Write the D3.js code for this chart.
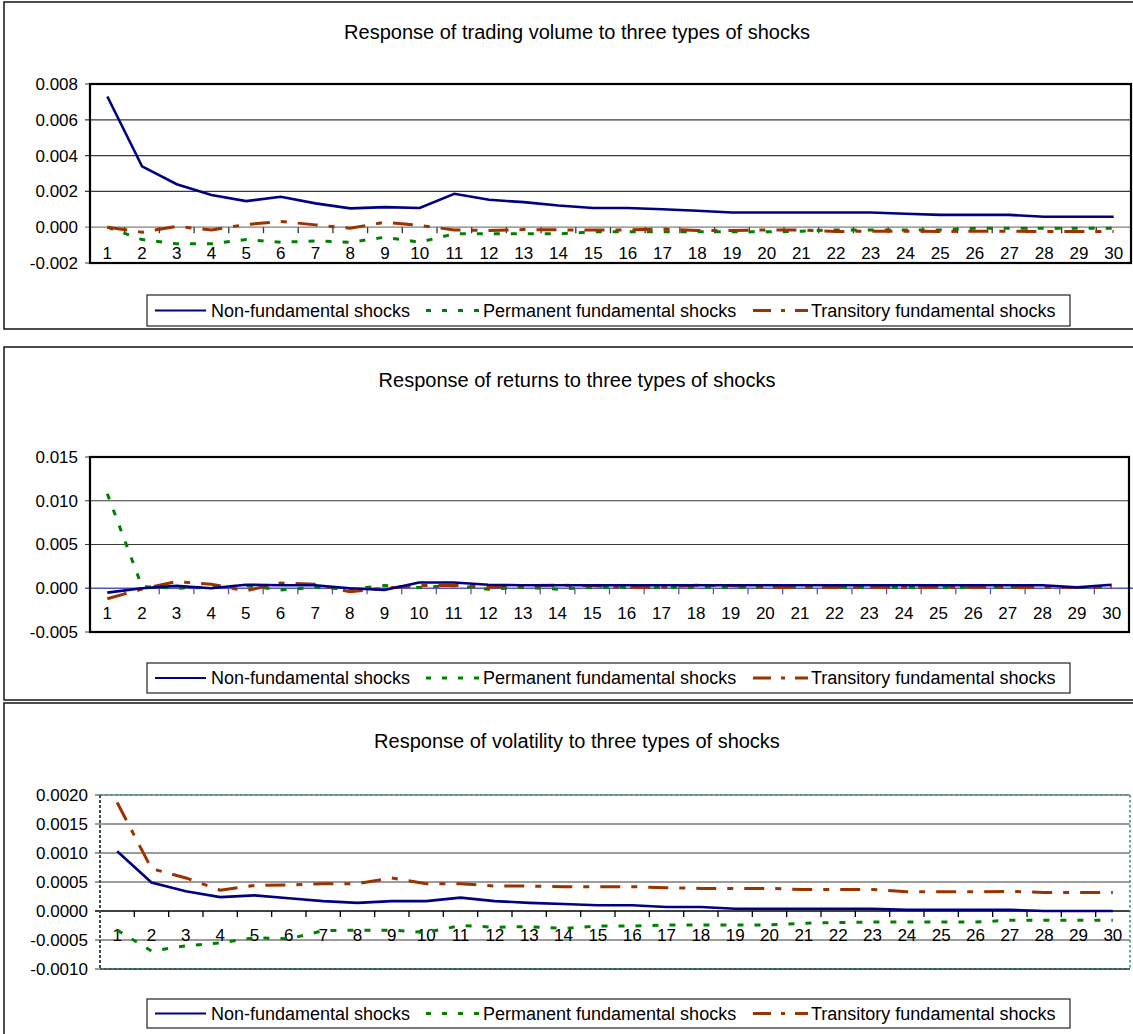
<!DOCTYPE html>
<html>
<head>
<meta charset="utf-8">
<script src="https://cdn.jsdelivr.net/npm/d3@7"></script>
<style>
  body { margin: 0; background: #fff; }
  svg { display: block; font-family: "Liberation Sans", Arial, sans-serif; }
</style>
</head>
<body>
<div id="chart"></div>
<script>
const periods = [1, 2, 3, 4, 5, 6, 7, 8, 9, 10, 11, 12, 13, 14, 15, 16, 17, 18, 19, 20, 21, 22, 23, 24, 25, 26, 27, 28, 29, 30];
const seriesNames = ['Non-fundamental shocks', 'Permanent fundamental shocks', 'Transitory fundamental shocks'];
const titles = [
  'Response of trading volume to three types of shocks',
  'Response of returns to three types of shocks',
  'Response of volatility to three types of shocks'
];

// trading volume
const volumeNonFundamental = [0.0073, 0.0034, 0.0024, 0.0018, 0.00146, 0.0017, 0.00133, 0.00105, 0.00112, 0.00107, 0.00187, 0.00153, 0.0014, 0.00121, 0.00107, 0.00107, 0.001, 0.00092, 0.00082, 0.00082, 0.00082, 0.00082, 0.00082, 0.00075, 0.00069, 0.00069, 0.00069, 0.00058, 0.00058, 0.00058];
const volumePermanent = [0, -0.00069, -0.00093, -0.00093, -0.00069, -0.00084, -0.00077, -0.00084, -0.00056, -0.00084, -0.00037, -0.00037, -0.00037, -0.00037, -0.00026, -0.00026, -0.00026, -0.00026, -0.00026, -0.00026, -0.00022, -0.00015, -0.00015, -0.00015, -0.00015, -0.00006, -0.00006, -0.00006, -0.00006, -0.00006];
const volumeTransitory = [0, -0.00028, 0.00004, -0.00015, 0.00015, 0.00032, 0.00013, -0.00006, 0.00028, 0.0001, -0.00015, -0.00019, -0.00013, -0.00015, -0.00015, -0.00015, -0.0001, -0.00019, -0.00019, -0.00015, -0.00015, -0.00024, -0.00022, -0.00022, -0.00024, -0.00022, -0.00022, -0.00024, -0.00024, -0.00024];
const volumeTicks = [-0.002, 0, 0.002, 0.004, 0.006, 0.008];

// returns
const returnsNonFundamental = [-0.0005, 0, 0.00027, 0, 0.0004, 0.00034, 0.00034, 0, -0.0002, 0.00065, 0.00065, 0.0004, 0.00034, 0.00034, 0.00034, 0.00034, 0.00034, 0.00034, 0.00034, 0.00034, 0.00034, 0.00034, 0.00034, 0.00034, 0.00034, 0.00034, 0.00034, 0.00034, 0.0001, 0.0004];
const returnsPermanent = [0.0108, 0.0002, 0, 0.0001, 0.0003, -0.0002, 0.0001, -0.0001, 0.0003, 0.0001, 0.0003, -0.0001, 0.0001, -0.0001, 0.0001, 0.0001, 0.0001, 0.0001, 0.0001, 0.0001, 0.0001, 0.0001, 0.0001, 0.0001, 0.0001, 0.0001, 0.0001, 0.0001, 0.0001, 0.0001];
const returnsTransitory = [-0.0012, -0.0001, 0.00076, 0.00046, -0.0003, 0.0006, 0.00046, -0.0004, 0, 0.0003, 0.00034, 0.0001, 0.0003, 0.00034, 0.0003, 0.0001, 0.0001, 0.00034, 0.0003, 0.0001, 0.0001, 0.0001, 0.0001, 0.0001, 0.0001, 0.0001, 0.0001, 0.0001, 0.0001, 0.0001];
const returnsTicks = [-0.005, 0, 0.005, 0.010, 0.015];

// volatility
const volatilityNonFundamental = [0.00103, 0.00049, 0.00034, 0.00024, 0.00027, 0.00022, 0.00017, 0.00014, 0.00017, 0.00017, 0.00023, 0.00017, 0.00014, 0.00012, 0.0001, 0.0001, 0.00007, 0.00007, 0.00004, 0.00004, 0.00004, 0.00004, 0.00004, 0.00002, 0.00002, 0.00002, 0.00002, 0, 0, 0];
const volatilityPermanent = [-0.00033, -0.00069, -0.0006, -0.00055, -0.00046, -0.00048, -0.00034, -0.00033, -0.00033, -0.00037, -0.00025, -0.00028, -0.00027, -0.0003, -0.00026, -0.00026, -0.00024, -0.00024, -0.00024, -0.00024, -0.00021, -0.0002, -0.00019, -0.00019, -0.00019, -0.00019, -0.00016, -0.00016, -0.00016, -0.00016];
const volatilityTransitory = [0.00187, 0.00073, 0.00057, 0.00036, 0.00044, 0.00045, 0.00047, 0.00047, 0.00057, 0.00047, 0.00047, 0.00043, 0.00043, 0.00042, 0.00042, 0.00042, 0.0004, 0.00039, 0.00039, 0.00039, 0.00037, 0.00037, 0.00037, 0.00033, 0.00033, 0.00033, 0.00034, 0.00032, 0.00032, 0.00032];
const volatilityTicks = [-0.0010, -0.0005, 0, 0.0005, 0.0010, 0.0015, 0.0020];

const seriesStyle = [
  { colour: '#000080', width: 2.6, dash: null },
  { colour: '#008000', width: 3, dash: '6,11' },
  { colour: '#993300', width: 3, dash: '20,11,6,11' }
];

const w = 1133;
const h = 1034;

const svg = d3.select('#chart')
  .append('svg')
  .attr('width', w)
  .attr('height', h);

const panels = [
  {
    title: titles[0], series: [volumeNonFundamental, volumePermanent, volumeTransitory], ticks: volumeTicks, digits: 3,
    frame: { top: 2, bottom: 329 }, titleY: 39,
    plot: { left: 90, right: 1131, top: 84, bottom: 263 },
    labelGap: 32, zeroColour: '#808080', border: 'solid', legend: { top: 295, bottom: 326 }
  },
  {
    title: titles[1], series: [returnsNonFundamental, returnsPermanent, returnsTransitory], ticks: returnsTicks, digits: 3,
    frame: { top: 347, bottom: 700 }, titleY: 387,
    plot: { left: 90, right: 1129, top: 457, bottom: 632 },
    labelGap: 31, zeroColour: '#5555bb', border: 'solid', legend: { top: 663, bottom: 693 }
  },
  {
    title: titles[2], series: [volatilityNonFundamental, volatilityPermanent, volatilityTransitory], ticks: volatilityTicks, digits: 4,
    frame: { top: 703, bottom: 1040 }, titleY: 748,
    plot: { left: 100, right: 1130, top: 795, bottom: 969 },
    labelGap: 30, zeroColour: '#000', border: 'dotted', legend: { top: 999, bottom: 1028 }
  }
];

panels.forEach(drawPanel);

function drawPanel(p) {
  const g = svg.append('g');
  const m = p.plot;

  // outer frame
  g.append('rect')
    .attr('x', 4)
    .attr('y', p.frame.top)
    .attr('width', w + 20)
    .attr('height', p.frame.bottom - p.frame.top)
    .attr('fill', 'none')
    .attr('stroke', '#222')
    .attr('stroke-width', 1.6);

  g.append('text')
    .attr('x', 577)
    .attr('y', p.titleY)
    .attr('text-anchor', 'middle')
    .attr('font-size', 20)
    .attr('fill', '#000')
    .text(p.title);

  // scales
  const xScale = d3.scaleBand()
    .domain(periods)
    .range([m.left, m.right])
    .paddingInner(0)
    .paddingOuter(0);

  const yScale = d3.scaleLinear()
    .domain(d3.extent(p.ticks))
    .range([m.bottom, m.top]);

  const fmt = v => d3.format('.' + p.digits + 'f')(v).replace('\u2212', '-');

  // gridlines with small outward ticks
  g.selectAll('.grid')
    .data(p.ticks.filter(t => t !== 0))
    .enter()
    .append('line')
    .attr('x1', m.left - 5)
    .attr('x2', m.right)
    .attr('y1', d => yScale(d))
    .attr('y2', d => yScale(d))
    .attr('stroke', '#3a3a3a')
    .attr('stroke-width', 1.2);

  // y axis labels
  const yAxis = d3.axisLeft(yScale)
    .tickValues(p.ticks)
    .tickFormat(fmt)
    .tickSize(0)
    .tickPadding(12);

  g.append('g')
    .attr('transform', `translate(${m.left}, 0)`)
    .call(yAxis)
    .call(a => a.select('.domain').remove())
    .selectAll('text')
    .attr('font-size', 17)
    .attr('font-family', '"Liberation Sans", Arial, sans-serif')
    .attr('fill', '#000');

  // zero tick on y side
  const y0 = yScale(0);
  g.append('line')
    .attr('x1', m.left - 5)
    .attr('x2', p.border === 'solid' && p.zeroColour !== '#808080' ? w : m.right)
    .attr('y1', y0)
    .attr('y2', y0)
    .attr('stroke', p.zeroColour)
    .attr('stroke-width', 1.3);

  // category ticks between periods
  const step = xScale.step();
  g.selectAll('.cat-tick')
    .data(periods.slice(1))
    .enter()
    .append('line')
    .attr('x1', d => xScale(d))
    .attr('x2', d => xScale(d))
    .attr('y1', y0)
    .attr('y2', y0 + 6)
    .attr('stroke', p.zeroColour === '#808080' ? '#333' : p.zeroColour)
    .attr('stroke-width', 1.3);

  // category labels
  const xAxis = d3.axisBottom(xScale)
    .tickSize(0)
    .tickPadding(p.labelGap - 12);

  g.append('g')
    .attr('transform', `translate(0, ${y0})`)
    .call(xAxis)
    .call(a => a.select('.domain').remove())
    .selectAll('text')
    .attr('font-size', 17)
    .attr('font-family', '"Liberation Sans", Arial, sans-serif')
    .attr('fill', '#000');

  // plot border
  if (p.border === 'solid') {
    g.append('rect')
      .attr('x', m.left)
      .attr('y', m.top)
      .attr('width', m.right - m.left)
      .attr('height', m.bottom - m.top)
      .attr('fill', 'none')
      .attr('stroke', '#000')
      .attr('stroke-width', 2.2);
  } else {
    g.append('line')
      .attr('x1', m.left).attr('x2', m.right)
      .attr('y1', m.bottom).attr('y2', m.bottom)
      .attr('stroke', '#000').attr('stroke-width', 1.2);
    g.append('rect')
      .attr('x', m.left)
      .attr('y', m.top)
      .attr('width', m.right - m.left)
      .attr('height', m.bottom - m.top)
      .attr('fill', 'none')
      .attr('stroke', '#2e9a68')
      .attr('stroke-width', 1.6)
      .attr('stroke-dasharray', '2.5,2.5');
    g.append('line')
      .attr('x1', m.left).attr('x2', m.left)
      .attr('y1', m.top).attr('y2', m.bottom)
      .attr('stroke', '#35503f').attr('stroke-width', 2)
      .attr('stroke-dasharray', '3,2');
  }

  // series lines
  const line = d3.line()
    .x((d, i) => xScale(periods[i]) + xScale.bandwidth() / 2)
    .y(d => yScale(d));

  [1, 2, 0].forEach(k => {
    g.append('path')
      .datum(p.series[k])
      .attr('d', line)
      .attr('fill', 'none')
      .attr('stroke', seriesStyle[k].colour)
      .attr('stroke-width', seriesStyle[k].width)
      .attr('stroke-dasharray', seriesStyle[k].dash);
  });

  // legend
  const lg = p.legend;
  const ly = (lg.top + lg.bottom) / 2;
  g.append('rect')
    .attr('x', 147)
    .attr('y', lg.top)
    .attr('width', 1070 - 147)
    .attr('height', lg.bottom - lg.top)
    .attr('fill', '#fff')
    .attr('stroke', '#222')
    .attr('stroke-width', 1.2);

  const legendItems = [
    { x1: 155, x2: 206, tx: 211 },
    { x1: 426, x2: 481, tx: 483 },
    { x1: 753, x2: 808, tx: 811 }
  ];

  legendItems.forEach((it, k) => {
    g.append('line')
      .attr('x1', it.x1)
      .attr('x2', it.x2)
      .attr('y1', ly)
      .attr('y2', ly)
      .attr('stroke', seriesStyle[k].colour)
      .attr('stroke-width', k === 0 ? 2.2 : 3)
      .attr('stroke-dasharray', k === 1 ? '5,11' : k === 2 ? '18,10,4,10' : null);
    g.append('text')
      .attr('x', it.tx)
      .attr('y', ly + 6)
      .attr('font-size', 18)
      .attr('fill', '#000')
      .text(seriesNames[k]);
  });
}
</script>
</body>
</html>
